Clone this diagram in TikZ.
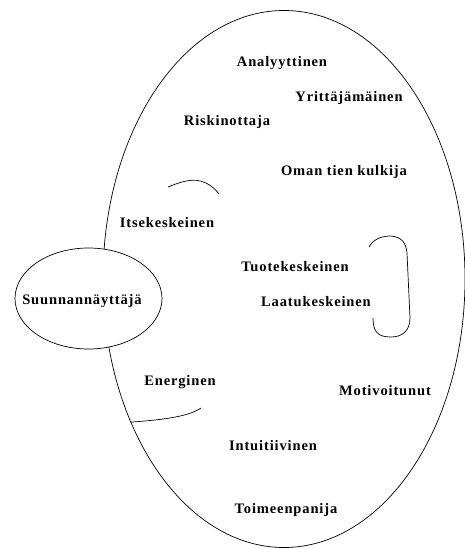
\documentclass[tikz,border=0pt]{standalone}
\usepackage{fontspec}
\setmainfont{Liberation Serif}[LetterSpace=6]
\usetikzlibrary{shapes.geometric}
\begin{document}
\begin{tikzpicture}[x=1pt,y=-1pt,
  trait/.style={font=\bfseries\fontsize{14.5}{16}\selectfont, inner sep=0pt},
  outline/.style={line width=0.7pt, black},
  stroke/.style={line width=0.7pt, black}]
  \useasboundingbox (0,0) rectangle (465,549);

  % large profile ellipse
  \node[ellipse, draw, outline, minimum width=362pt, minimum height=537pt, inner sep=0pt]
    (big) at (284,279) {};

  % traits inside the profile
  \node[trait] (ana) at (282,63) {Analyyttinen};
  \node[trait] (yri) at (349,98) {Yrittäjämäinen};
  \node[trait] (ris) at (227,122) {Riskinottaja};
  \node[trait] (oma) at (344,172) {Oman tien kulkija};
  \node[trait] (its) at (167,223) {Itsekeskeinen};
  \node[trait] (tuo) at (295,267) {Tuotekeskeinen};
  \node[trait] (laa) at (316,302) {Laatukeskeinen};
  \node[trait] (ene) at (180,382) {Energinen};
  \node[trait] (mot) at (385,391) {Motivoitunut};
  \node[trait] (int) at (273,446) {Intuitiivinen};
  \node[trait] (toi) at (286,510) {Toimeenpanija};

  % small ellipse overlapping the left edge
  \node[ellipse, draw, outline, fill=white, minimum width=147pt, minimum height=101pt,
        inner sep=0pt] (suu) at (88.5,298.5) {};
  \node[trait] (suutext) at (82,301) {Suunnannäyttäjä};

  % arc above Itsekeskeinen
  \draw[stroke] (168,187) .. controls (180,182) and (194,177) .. (206,183)
    .. controls (212,186) and (216,190) .. (219,194);

  % bracket around Tuotekeskeinen / Laatukeskeinen
  \draw[stroke] (369,247) .. controls (373,240) and (380,236) .. (391,236)
    .. controls (402,237) and (406,243) .. (407,253) -- (410,318)
    .. controls (410,331) and (402,337) .. (391,337)
    .. controls (378,337) and (373,332) .. (373,318);

  % line below Energinen from the profile edge
  \draw[stroke] (big.223) .. controls (160,420) and (188,417) .. (201,408);
\end{tikzpicture}
\end{document}
